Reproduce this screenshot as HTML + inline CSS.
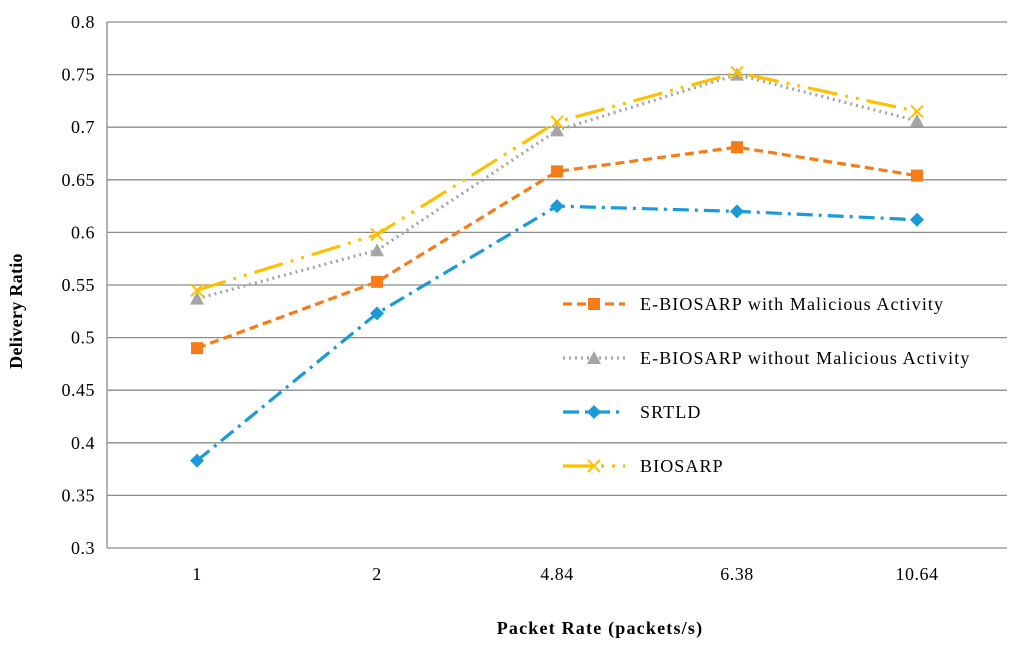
<!DOCTYPE html>
<html><head><meta charset="utf-8"><style>
body{margin:0;background:#fff}
svg text{font-family:"Liberation Serif",serif;fill:#000}
</style></head><body>
<svg id="chart" width="1024" height="652">
<g id="grid"></g>
<g id="yticks"></g>
<g id="xticks"></g>
<g id="series"></g>
<g id="legend"></g>
<text x="22" y="311" transform="rotate(-90 22 311)" text-anchor="middle" font-weight="bold" font-size="18" letter-spacing="0.3">Delivery Ratio</text>
<text x="600" y="634" text-anchor="middle" font-weight="bold" font-size="18" letter-spacing="1.2">Packet Rate (packets/s)</text>
</svg>
<script>
const categories=["1","2","4.84","6.38","10.64"];
const yTicks=[0.3,0.35,0.4,0.45,0.5,0.55,0.6,0.65,0.7,0.75,0.8];
const seriesNames=["E-BIOSARP with Malicious Activity","E-BIOSARP without Malicious Activity","SRTLD","BIOSARP"];
const malicious=[0.49,0.553,0.658,0.681,0.654];
const withoutMalicious=[0.537,0.583,0.697,0.750,0.706];
const srtld=[0.383,0.523,0.625,0.620,0.612];
const biosarp=[0.545,0.598,0.705,0.752,0.715];

const NS="http://www.w3.org/2000/svg";
const L=107,R=1007,T=22,B=548,ymin=0.3,ymax=0.8;
const xs=i=>L+(R-L)/categories.length*(i+0.5);
const ys=v=>B-(v-ymin)/(ymax-ymin)*(B-T);
function mk(tag,attrs,parent){const e=document.createElementNS(NS,tag);for(const k in attrs)e.setAttribute(k,attrs[k]);parent.appendChild(e);return e;}
const grid=document.getElementById('grid'),yt=document.getElementById('yticks'),xt=document.getElementById('xticks');
yTicks.forEach(v=>{
  const l=mk('line',{x1:L,x2:R,y1:ys(v),y2:ys(v),stroke:'#8c8c8c','stroke-width':1.3},grid);
  
  
  const t=mk('text',{x:L-12,y:ys(v)+6,'text-anchor':'end','font-size':18,'letter-spacing':0.5},yt);
  t.textContent=String(v);
  
  
});
const ax=mk('line',{x1:L,x2:L,y1:T,y2:B,stroke:'#8c8c8c','stroke-width':1.3},grid);


categories.forEach((c,i)=>{
  const t=mk('text',{x:xs(i),y:B+32,'text-anchor':'middle','font-size':18,'letter-spacing':0.5},xt);
  t.textContent=c;
  
  
});
const styles=[
 {data:malicious,color:'#f57c18',dash:'9,5',m:'square'},
 {data:withoutMalicious,color:'#a5a5a5',dash:'2,4',m:'tri'},
 {data:srtld,color:'#1a9ad6',dash:'16,6,3,6',m:'diamond'},
 {data:biosarp,color:'#ffc000',dash:'30,8,3,8,3,8',m:'x'}];
function marker(g,type,x,y,c){
  let e;
  if(type==='square')e=mk('rect',{x:x-6,y:y-6,width:12,height:12,fill:c},g);
  else if(type==='tri')e=mk('polygon',{points:`${x},${y-7} ${x+7},${y+6} ${x-7},${y+6}`,fill:c},g);
  else if(type==='diamond')e=mk('polygon',{points:`${x},${y-7} ${x+7},${y} ${x},${y+7} ${x-7},${y}`,fill:c},g);
  else e=mk('path',{d:`M${x-6},${y-6}L${x+6},${y+6}M${x-6},${y+6}L${x+6},${y-6}`,stroke:c,'stroke-width':2,fill:'none'},g);
  
  
}
const sg=document.getElementById('series'),lg=document.getElementById('legend');
styles.forEach((s,k)=>{
  const g=mk('g',{},sg);
  
  
  const pl=mk('polyline',{points:s.data.map((v,i)=>xs(i)+','+ys(v)).join(' '),fill:'none',stroke:s.color,'stroke-width':3.2,'stroke-dasharray':s.dash},g);
  
  
  s.data.forEach((v,i)=>marker(g,s.m,xs(i),ys(v),s.color));
  const ly=304+54*k;
  const eg=mk('g',{},lg);
  
  
  mk('line',{x1:563,x2:625,y1:ly,y2:ly,stroke:s.color,'stroke-width':3.2,'stroke-dasharray':s.dash},eg);
  marker(eg,s.m,594,ly,s.color);
  const t=mk('text',{x:640,y:ly+6,'font-size':18,'letter-spacing':1.1},eg);
  t.textContent=seriesNames[k];
});
</script>
</body></html>
